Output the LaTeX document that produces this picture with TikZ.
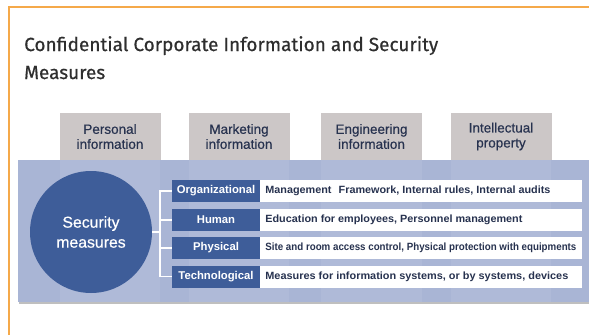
\documentclass[tikz,border=0pt]{standalone}
\usepackage{fontspec}
\usepackage{graphicx}
\setmainfont{Liberation Sans}
\newfontfamily\titlefont[FakeBold=0.6]{Fira Sans}
\newfontfamily\tabfont[FakeBold=0.5]{Liberation Sans}
\definecolor{orangeline}{HTML}{F5A94A}
\definecolor{tabgray}{HTML}{CCC7C7}
\definecolor{panelblue}{HTML}{A9B5D5}
\definecolor{darkblue}{HTML}{3E5D99}
\definecolor{navytext}{HTML}{27324F}
\definecolor{titlegray}{HTML}{2E2E2E}
\newcommand{\fitw}[2]{\resizebox{#1pt}{\height}{#2}}
\begin{document}
\begin{tikzpicture}[x=1pt,y=-1pt,
  tabbox/.style={fill=tabgray,minimum width=101pt,minimum height=48pt,inner sep=0pt,
     font=\tabfont\fontsize{13.5}{15}\selectfont,text=navytext,align=center},
  catbox/.style={fill=darkblue,minimum width=88pt,minimum height=22pt,inner sep=0pt,
     font=\bfseries\fontsize{11.3}{13}\selectfont,text=white},
  descbox/.style={fill=white,minimum width=322pt,minimum height=22pt,inner sep=0pt,
     anchor=west},
  desctext/.style={anchor=west,inner sep=0pt,font=\bfseries\fontsize{10.5}{12}\selectfont,text=navytext},
  link/.style={white,line width=1.6pt}]
\useasboundingbox (0,0) rectangle (589,335);
\fill[white] (0,0) rectangle (589,335);
% orange frame
\draw[orangeline,line width=1.4pt] (9,335) -- (9,7) -- (589,7);
% title
\node[anchor=north west,align=left,text=titlegray,font=\titlefont\fontsize{19}{28}\selectfont,inner sep=0pt]
  (title) at (24,36) {Confidential Corporate Information and Security\\Measures};
% tabs
\node[tabbox] (t1) at (110,136.5) {Personal\\information};
\node[tabbox] (t2) at (239,136.5) {Marketing\\information};
\node[tabbox] (t3) at (371.5,136.5) {Engineering\\information};
\node[tabbox] (t4) at (501,136.5) {Intellectual\\property};
% panel
\fill[black!25] (19,162) rectangle (589,304);
\fill[panelblue] (18,160) rectangle (589,302);
\foreach \xa/\xb in {60/160,189/289,321/422,451/551}
  \fill[white,opacity=0.08] (\xa,160) rectangle (\xb,302);
% circle
\node[circle,fill=darkblue,minimum size=122pt,inner sep=0pt,text=white,align=center,
  font=\tabfont\fontsize{15.8}{20}\selectfont] (sec) at (91,232) {Security\\measures};
% categories
\node[catbox] (c1) at (216,191) {Organizational};
\node[catbox] (c2) at (216,220) {Human};
\node[catbox] (c3) at (216,248) {Physical};
\node[catbox] (c4) at (216,276.5) {Technological};
\node[descbox] (d1) at (c1.east) {};
\node[descbox] (d2) at (c2.east) {};
\node[descbox] (d3) at (c3.east) {};
\node[descbox] (d4) at (c4.east) {};
\node[desctext] (e1) at ([xshift=5pt]d1.west) {\fitw{285}{Management\hspace{4pt} Framework, Internal rules, Internal audits}};
\node[desctext] (e2) at ([xshift=5pt]d2.west) {\fitw{257}{Education for employees, Personnel management}};
\node[desctext] (e3) at ([xshift=5pt]d3.west) {\fitw{311}{Site and room access control, Physical protection with equipments}};
\node[desctext] (e4) at ([xshift=5pt]d4.west) {\fitw{303}{Measures for information systems, or by systems, devices}};
% connectors
\coordinate (j) at (160,232);
\draw[link] (sec.east) -- (j);
\draw[link] (c1.west) -| (j);
\draw[link] (c2.west) -| (j);
\draw[link] (c3.west) -| (j);
\draw[link] (c4.west) -| (j);
\end{tikzpicture}
\end{document}
